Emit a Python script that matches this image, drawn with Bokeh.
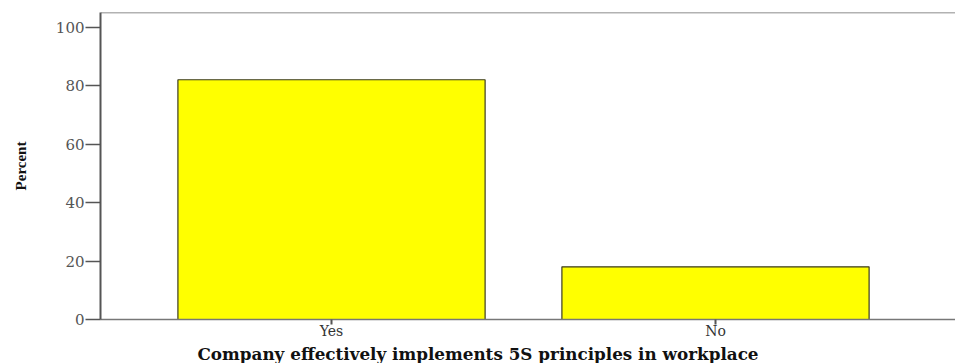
from bokeh.plotting import figure
from bokeh.models import Range1d, FixedTicker, Span, Title
from bokeh.embed import file_html
from bokeh.resources import INLINE

categories = ["Yes", "No"]
percent = [82.0, 18.0]
y_ticks = [0, 20, 40, 60, 80, 100]
x_title = "Company effectively implements 5S principles in workplace"
y_title = "Percent"

xs = list(range(len(categories)))

p = figure(width=955, height=363, output_backend="svg", toolbar_location=None,
           x_range=Range1d(-0.6016, 1.625), y_range=Range1d(0, 105),
           min_border_left=100, min_border_right=0, min_border_top=12, min_border_bottom=0)
p.outline_line_color = None
p.xgrid.grid_line_color = None
p.ygrid.grid_line_color = None
p.background_fill_color = "white"
p.border_fill_color = "white"

p.vbar(x=xs, top=percent, width=0.8, bottom=0, fill_color="#FFFF00",
       line_color="#3a3a20", line_width=1.2)

# top frame line
p.add_layout(Span(location=105, dimension="width", line_color="#666666", line_width=1.5))

p.xaxis.ticker = FixedTicker(ticks=xs)
p.xaxis.major_label_overrides = {i: c for i, c in enumerate(categories)}
p.xaxis.minor_tick_line_color = None
p.xaxis.major_tick_in = 0
p.xaxis.major_tick_out = 5
p.xaxis.major_tick_line_width = 2
p.xaxis.major_tick_line_color = "#555555"
p.xaxis.axis_line_color = "#777777"
p.xaxis.axis_line_width = 1.5
p.xaxis.major_label_text_font = "DejaVu Serif"
p.xaxis.major_label_text_font_size = "14px"
p.xaxis.major_label_text_color = "#333333"
p.xaxis.major_label_standoff = -2

p.yaxis.ticker = FixedTicker(ticks=y_ticks)
p.yaxis.minor_tick_line_color = None
p.yaxis.major_tick_in = 0
p.yaxis.major_tick_out = 15
p.yaxis.major_tick_line_width = 1.5
p.yaxis.major_tick_line_color = "#555555"
p.yaxis.axis_line_color = "#555555"
p.yaxis.axis_line_width = 2
p.yaxis.major_label_text_font = "DejaVu Serif"
p.yaxis.major_label_text_font_size = "15px"
p.yaxis.major_label_text_color = "#555555"
p.yaxis.major_label_standoff = 1
p.yaxis.axis_label = y_title
p.yaxis.axis_label_text_font = "Liberation Serif"
p.yaxis.axis_label_text_font_style = "bold"
p.yaxis.axis_label_text_font_size = "15px"
p.yaxis.axis_label_text_color = "#111111"
p.yaxis.axis_label_standoff = 24

p.add_layout(Title(text=x_title, align="left", offset=97, standoff=0,
                   text_font="DejaVu Serif", text_font_style="bold",
                   text_font_size="16.8px", text_color="#111111"), "below")

open("out.html", "w").write(file_html(p, INLINE))
